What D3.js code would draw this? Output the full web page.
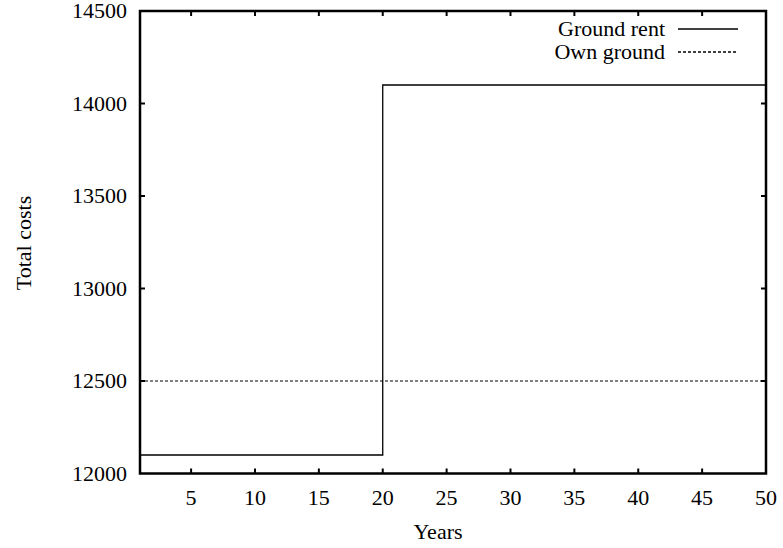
<!DOCTYPE html>
<html><head><meta charset="utf-8">
<script src="https://cdn.jsdelivr.net/npm/d3@7"></script>
<style>body{margin:0;background:#fff}svg{display:block}text{font-family:"Liberation Serif","Times New Roman",serif;font-size:22px;fill:#000}</style>
</head><body><svg id="c" width="783" height="548"></svg>
<script>
const rentYears = [1, 20, 50];
const rentCosts = [12100, 14100, 14100];
const ownYears = [1, 50];
const ownCosts = [12500, 12500];
const xTicks = [5, 10, 15, 20, 25, 30, 35, 40, 45, 50];
const yTicks = [12000, 12500, 13000, 13500, 14000, 14500];
const seriesNames = ["Ground rent", "Own ground"];

const svg = d3.select("#c");
const L = 140, R = 766, T = 11, B = 473.5;
const x = d3.scaleLinear().domain([1, 50]).range([L, R]);
const y = d3.scaleLinear().domain([12000, 14500]).range([B, T]);
const tl = 5;

const g = svg.append("g");
xTicks.forEach(t => {
  if (t === 50) return;
  g.append("line").attr("x1", x(t)).attr("x2", x(t)).attr("y1", B).attr("y2", B - tl).attr("stroke", "#000").attr("stroke-width", 2);
  g.append("line").attr("x1", x(t)).attr("x2", x(t)).attr("y1", T).attr("y2", T + tl).attr("stroke", "#000").attr("stroke-width", 2);
});
yTicks.forEach(t => {
  if (t === 12000 || t === 14500) return;
  g.append("line").attr("x1", L).attr("x2", L + tl).attr("y1", y(t)).attr("y2", y(t)).attr("stroke", "#000").attr("stroke-width", 2);
  g.append("line").attr("x1", R).attr("x2", R - tl).attr("y1", y(t)).attr("y2", y(t)).attr("stroke", "#000").attr("stroke-width", 2);
});
xTicks.forEach(t => {
  g.append("text").attr("x", x(t)).attr("y", 505).attr("text-anchor", "middle").text(t);
});
yTicks.forEach(t => {
  g.append("text").attr("x", 127).attr("y", y(t) + 7).attr("text-anchor", "end").text(t);
});

const line = d3.line().x(d => x(d[0])).y(d => y(d[1]));
svg.append("path").datum(rentYears.map((v, i) => [v, rentCosts[i]]))
  .attr("d", line.curve(d3.curveStepAfter)).attr("fill", "none").attr("stroke", "#000").attr("stroke-width", 1.3);
svg.append("path").datum(ownYears.map((v, i) => [v, ownCosts[i]]))
  .attr("d", d3.line().x(d => x(d[0])).y(d => y(d[1]))).attr("fill", "none").attr("stroke", "#000").attr("stroke-width", 1.2).attr("stroke-dasharray", "3,2");

svg.append("rect").attr("x", L).attr("y", T).attr("width", R - L).attr("height", B - T)
  .attr("fill", "none").attr("stroke", "#000").attr("stroke-width", 2.5);

const leg = [{y: 29, dash: null}, {y: 52, dash: "3,2"}];
leg.forEach((d, i) => {
  svg.append("text").attr("x", 665).attr("y", d.y + 7).attr("text-anchor", "end").text(seriesNames[i]);
  const ln = svg.append("line").attr("x1", 678).attr("x2", 738).attr("y1", d.y).attr("y2", d.y).attr("stroke", "#000").attr("stroke-width", 1.3);
  if (d.dash) ln.attr("stroke-dasharray", d.dash);
});

svg.append("text").attr("x", 438).attr("y", 539).attr("text-anchor", "middle").text("Years");
svg.append("text").attr("transform", "translate(31,243) rotate(-90)").attr("text-anchor", "middle").text("Total costs");
</script></body></html>
